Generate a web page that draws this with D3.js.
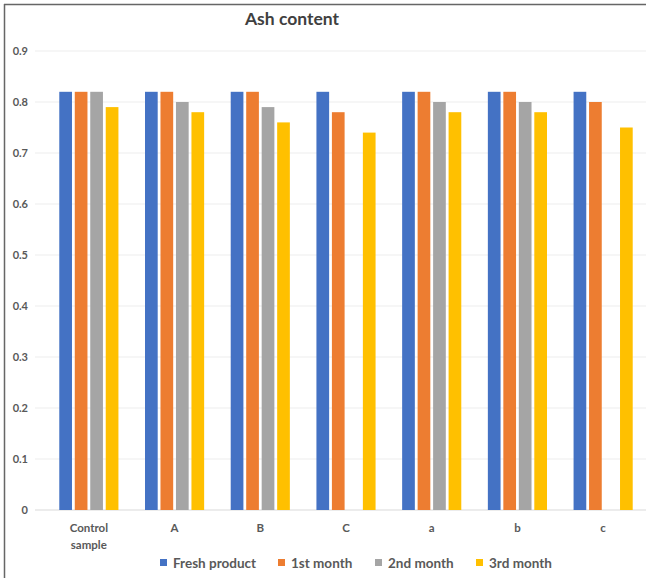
<!DOCTYPE html>
<html><head><meta charset="utf-8">
<script src="https://cdn.jsdelivr.net/npm/d3@7"></script>
<style>body{margin:0;background:#fff}svg{display:block}</style>
</head><body>
<script>
const categories = ["Control sample", "A", "B", "C", "a", "b", "c"];
const seriesNames = ["Fresh product", "1st month", "2nd month", "3rd month"];
const freshProduct = [0.82, 0.82, 0.82, 0.82, 0.82, 0.82, 0.82];
const month1 = [0.82, 0.82, 0.82, 0.78, 0.82, 0.82, 0.80];
const month2 = [0.82, 0.80, 0.79, null, 0.80, 0.80, null];
const month3 = [0.79, 0.78, 0.76, 0.74, 0.78, 0.78, 0.75];
const yTicks = [0, 0.1, 0.2, 0.3, 0.4, 0.5, 0.6, 0.7, 0.8, 0.9];
const colors = ["#4472C4", "#ED7D31", "#A5A5A5", "#FFC000"];
const seriesValues = [freshProduct, month1, month2, month3];

const W = 646, H = 578;
const svg = d3.select("body").append("svg").attr("width", W).attr("height", H);
const font = "Lato, 'Open Sans', sans-serif";

// frame lines (top & left)
svg.append("line").attr("x1", 4).attr("x2", W).attr("y1", 4.5).attr("y2", 4.5).attr("stroke", "#666").attr("stroke-width", 1.5);
svg.append("line").attr("x1", 4.5).attr("x2", 4.5).attr("y1", 4).attr("y2", H).attr("stroke", "#666").attr("stroke-width", 1.5);

const y = d3.scaleLinear().domain([0, 0.9]).range([510, 51]);
const x0 = d3.scaleBand().domain(categories).range([46, 646]).paddingInner(0.31).paddingOuter(0.155);
const x1 = d3.scaleBand().domain(seriesNames).range([0, x0.bandwidth()]).paddingInner(0.18);

// gridlines
svg.append("g").selectAll("line").data(yTicks).join("line")
  .attr("x1", 35).attr("x2", W).attr("y1", d => y(d)).attr("y2", d => y(d))
  .attr("stroke", d => d === 0 ? "#d9d9d9" : "#ededed").attr("stroke-width", 1);

// y labels
svg.append("g").selectAll("text").data(yTicks).join("text")
  .attr("x", 28).attr("y", d => y(d) + 4).attr("text-anchor", "end")
  .attr("font-family", font).attr("font-weight", "bold").attr("font-size", 11).attr("fill", "#595959")
  .text(d => d === 0 ? "0" : d3.format(".1f")(d));

// bars
const groups = svg.append("g").selectAll("g").data(categories).join("g")
  .attr("transform", d => `translate(${x0(d)},0)`);
groups.selectAll("rect").data((c, i) => seriesNames.map((s, j) => ({s, v: seriesValues[j][i], j})).filter(d => d.v != null))
  .join("rect")
  .attr("x", d => x1(d.s)).attr("width", x1.bandwidth())
  .attr("y", d => y(d.v)).attr("height", d => y(0) - y(d.v))
  .attr("fill", d => colors[d.j]);

// category labels
const cl = svg.append("g").selectAll("text").data(categories).join("text")
  .attr("x", d => x0(d) + x0.bandwidth() / 2).attr("y", 532).attr("text-anchor", "middle")
  .attr("font-family", font).attr("font-weight", "bold").attr("font-size", 11.5).attr("fill", "#595959");
cl.each(function(d) {
  const words = d === "Control sample" ? ["Control", "sample"] : [d];
  const t = d3.select(this);
  words.forEach((w, k) => t.append("tspan").attr("x", x0(d) + x0.bandwidth() / 2).attr("dy", k === 0 ? 0 : 17).text(w));
});

// title
svg.append("text").attr("x", 292).attr("y", 25).attr("text-anchor", "middle")
  .attr("font-family", font).attr("font-weight", "bold").attr("font-size", 17.5).attr("fill", "#404040")
  .text("Ash content");

// legend
const legX = [160, 278, 375, 476];
const leg = svg.append("g").selectAll("g").data(seriesNames).join("g")
  .attr("transform", (d, i) => `translate(${legX[i]},563)`);
leg.append("rect").attr("x", 0).attr("y", -4).attr("width", 7).attr("height", 7).attr("fill", (d, i) => colors[i]);
leg.append("text").attr("x", 13).attr("y", 4.5).attr("font-family", font).attr("font-weight", "bold")
  .attr("font-size", 13.5).attr("fill", "#595959").text(d => d);
</script>
</body></html>
